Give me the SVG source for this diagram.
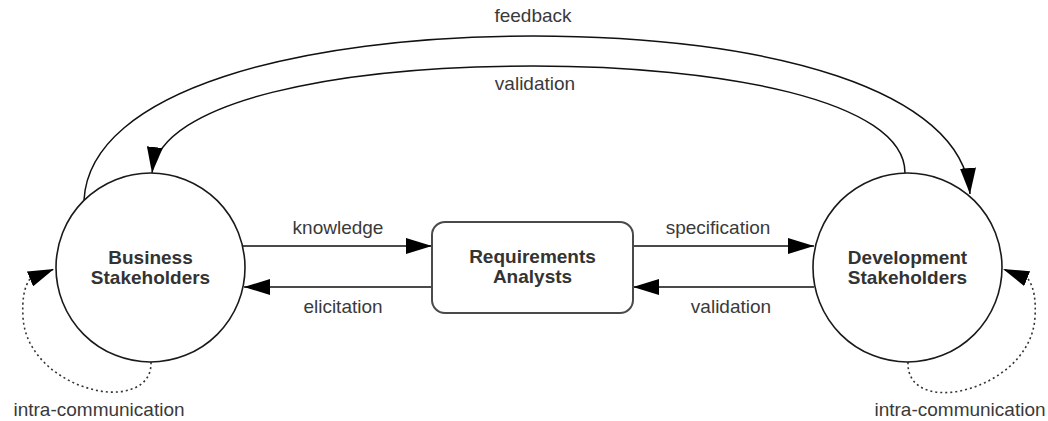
<svg xmlns="http://www.w3.org/2000/svg" width="1048" height="421" viewBox="0 0 1048 421">
  <style>
    .bg { fill: #ffffff; }
    .node { fill: #ffffff; stroke: #1a1a1a; stroke-width: 1.6; }
    .box { fill: #ffffff; stroke: #4a4a4a; stroke-width: 2; }
    .title { font-family: "Liberation Sans", Arial, sans-serif; font-size: 19px; font-weight: bold; fill: #333333; text-anchor: middle; }
    .label { font-family: "Liberation Sans", Arial, sans-serif; font-size: 19px; fill: #3a3a3a; text-anchor: middle; }
    .flow { fill: none; stroke: #4a4a4a; stroke-width: 2; }
    .arc { fill: none; stroke: #111111; stroke-width: 1.5; }
    .loop { fill: none; stroke: #333333; stroke-width: 1.6; stroke-dasharray: 2 3; }
  </style>
  <defs>
    <marker id="head" viewBox="0 0 26 16" markerWidth="26" markerHeight="16" refX="26" refY="8" orient="auto" markerUnits="userSpaceOnUse">
      <path d="M0,0 L26,8 L0,16 Z" fill="#000000"/>
    </marker>
    <marker id="headSmall" viewBox="0 0 26 16" markerWidth="26" markerHeight="16" refX="26" refY="8" orient="auto" markerUnits="userSpaceOnUse">
      <path d="M0,0 L26,8 L0,16 Z" fill="#000000"/>
    </marker>
  </defs>

  <rect class="bg" x="0" y="0" width="1048" height="421"/>

  <!-- connectors -->
  <g id="connectors">
    <!-- business -> development, over the top -->
    <path class="arc" d="M84,200 C90,90 300,36 533,36 C770,36 962,90 970,194" marker-end="url(#head)"/>
    <!-- development -> business, inner arc -->
    <path class="arc" d="M905,173 C905,100 720,66 533,66 C340,66 160,100 152,173" marker-end="url(#head)"/>
    <!-- business <-> analysts -->
    <path class="flow" d="M243,246 L432,246" marker-end="url(#head)"/>
    <path class="flow" d="M432,287 L244,287" marker-end="url(#head)"/>
    <!-- analysts <-> development -->
    <path class="flow" d="M633,246 L814,246" marker-end="url(#head)"/>
    <path class="flow" d="M814,287 L633,287" marker-end="url(#head)"/>
    <!-- self loops -->
    <path class="loop" d="M151,362 C152,390 120,396 95,390 C60,382 25,355 23,317 C22,300 24,287 30,279 L54,269" marker-end="url(#headSmall)"/>
    <path class="loop" d="M908,362 C907,390 935,396 960,391 C998,383 1033,355 1035,317 C1036,300 1034,287 1028,279 L1003,269" marker-end="url(#headSmall)"/>

    <text class="label" x="533" y="22">feedback</text>
    <text class="label" x="535" y="90">validation</text>
    <text class="label" x="338" y="234">knowledge</text>
    <text class="label" x="343" y="313">elicitation</text>
    <text class="label" x="718" y="234">specification</text>
    <text class="label" x="731" y="313">validation</text>
    <text class="label" x="99" y="416">intra-communication</text>
    <text class="label" x="960" y="416">intra-communication</text>
  </g>

  <g id="business">
    <circle class="node" cx="150.5" cy="267.5" r="94.5"/>
    <text class="title" x="150.5" y="264">Business</text>
    <text class="title" x="150.5" y="284">Stakeholders</text>
  </g>

  <g id="analysts">
    <rect class="box" x="432" y="222" width="201" height="91" rx="13" ry="13"/>
    <text class="title" x="532.5" y="263">Requirements</text>
    <text class="title" x="532.5" y="283">Analysts</text>
  </g>

  <g id="development">
    <circle class="node" cx="907.5" cy="267.5" r="94.5"/>
    <text class="title" x="907.5" y="264">Development</text>
    <text class="title" x="907.5" y="284">Stakeholders</text>
  </g>
</svg>
